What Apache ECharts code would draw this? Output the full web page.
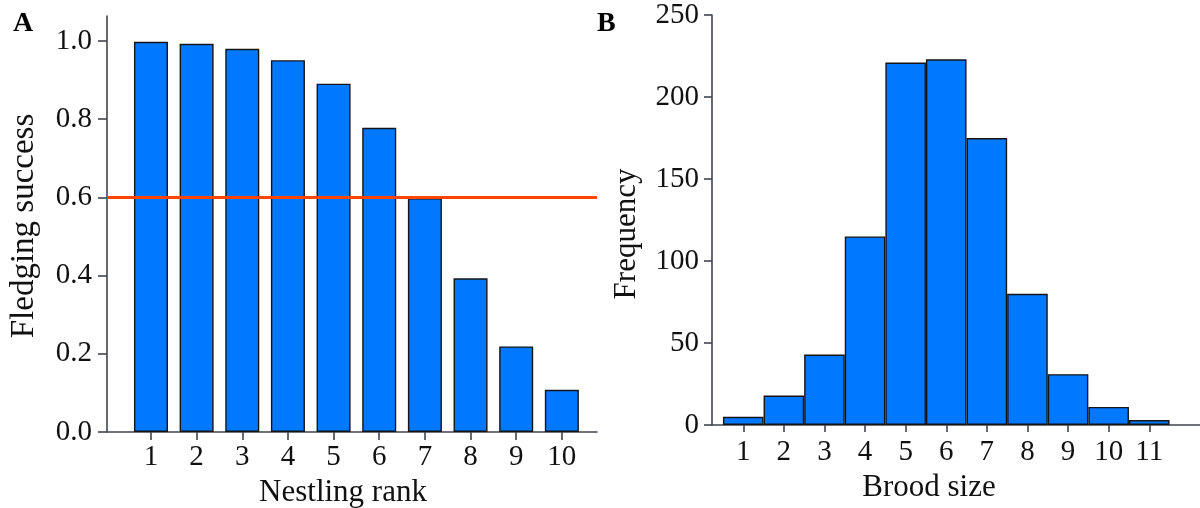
<!DOCTYPE html>
<html>
<head>
<meta charset="utf-8">
<title>Fledging success and brood size</title>
<script src="https://cdn.jsdelivr.net/npm/echarts@6/dist/echarts.min.js"></script>
<style>
  html, body { margin: 0; padding: 0; background: #fff; }
  #chart { width: 1200px; height: 508px; }
</style>
</head>
<body>
<div id="chart"></div>
<script>
// Panel A: fledging success by nestling rank
const nestlingRanks = [1, 2, 3, 4, 5, 6, 7, 8, 9, 10];
const fledgingSuccess = [0.998, 0.993, 0.980, 0.951, 0.891, 0.778, 0.598, 0.393, 0.219, 0.108];
const successThreshold = 0.6;
const successTicks = [0, 0.2, 0.4, 0.6, 0.8, 1.0];

// Panel B: distribution of brood sizes
const broodSizes = [1, 2, 3, 4, 5, 6, 7, 8, 9, 10, 11];
const broodFrequency = [5, 18, 43, 115, 221, 223, 175, 80, 31, 11, 3];
const frequencyTicks = [0, 50, 100, 150, 200, 250];

const FONT = '"Liberation Serif", "Times New Roman", serif';
const BAR_FILL = '#0078ff';
const BAR_EDGE = '#151515';
const AXIS_COLOR = '#40454c';
const TEXT_COLOR = '#111';

// plot areas in pixels (fixed; labels are allowed to sit outside them)
const gridA = { left: 107, top: 16, width: 490, height: 416 };
const gridB = { left: 712, top: 15, width: 488, height: 410 };
const xRangeA = [0.037, 10.77];
const xRangeB = [0.23, 12.25];
const pxPerUnitA = gridA.width / (xRangeA[1] - xRangeA[0]);
const pxPerUnitB = gridB.width / (xRangeB[1] - xRangeB[0]);

const axisLine = { show: true, lineStyle: { color: AXIS_COLOR, width: 1.6 } };
const axisTick = (vals, len) => ({ show: true, length: len, inside: false, customValues: vals,
  lineStyle: { color: AXIS_COLOR, width: 1.6 } });
const labelStyle = { color: TEXT_COLOR, fontFamily: FONT, fontSize: 29 };
const nameStyle = (pad, size) => ({ color: TEXT_COLOR, fontFamily: FONT, fontSize: size || 31, padding: pad });

const option = {
  animation: false,
  backgroundColor: '#ffffff',
  grid: [
    Object.assign({ containLabel: false, outerBoundsMode: 'none' }, gridA),
    Object.assign({ containLabel: false, outerBoundsMode: 'none' }, gridB)
  ],
  xAxis: [
    {
      gridIndex: 0, type: 'value', min: xRangeA[0], max: xRangeA[1],
      axisLine: axisLine, axisTick: axisTick(nestlingRanks, 8),
      axisLabel: Object.assign({ customValues: nestlingRanks, margin: 11 }, labelStyle),
      splitLine: { show: false },
      name: 'Nestling rank', nameLocation: 'middle', nameGap: 39,
      nameTextStyle: nameStyle([0, 18, 0, 0])
    },
    {
      gridIndex: 1, type: 'value', min: xRangeB[0], max: xRangeB[1],
      axisLine: axisLine, axisTick: axisTick(broodSizes, 7),
      axisLabel: Object.assign({ customValues: broodSizes, margin: 13 }, labelStyle),
      splitLine: { show: false },
      name: 'Brood size', nameLocation: 'middle', nameGap: 43,
      nameTextStyle: nameStyle([0, 54, 0, 0])
    }
  ],
  yAxis: [
    {
      gridIndex: 0, type: 'value', min: 0, max: 1.064,
      axisLine: axisLine, axisTick: axisTick(successTicks, 9),
      axisLabel: Object.assign({ customValues: successTicks, margin: 15,
        formatter: (v) => v.toFixed(1) }, labelStyle),
      splitLine: { show: false },
      name: 'Fledging success', nameLocation: 'middle', nameRotate: 90, nameGap: 66,
      nameTextStyle: nameStyle([0, 4, 0, 0], 33)
    },
    {
      gridIndex: 1, type: 'value', min: 0, max: 250,
      axisLine: axisLine, axisTick: axisTick(frequencyTicks, 8),
      axisLabel: Object.assign({ customValues: frequencyTicks, margin: 13 }, labelStyle),
      splitLine: { show: false },
      name: 'Frequency', nameLocation: 'middle', nameRotate: 90, nameGap: 70,
      nameTextStyle: nameStyle([0, 28, 0, 0])
    }
  ],
  series: [
    {
      type: 'bar', xAxisIndex: 0, yAxisIndex: 0,
      data: nestlingRanks.map((r, i) => [r, fledgingSuccess[i]]),
      barWidth: pxPerUnitA * 0.745,
      itemStyle: { color: BAR_FILL, borderColor: BAR_EDGE, borderWidth: 1.4 },
      markLine: {
        silent: true, symbol: 'none', label: { show: false },
        lineStyle: { color: '#ff4500', width: 3, type: 'solid' },
        data: [{ yAxis: successThreshold }]
      }
    },
    {
      type: 'bar', xAxisIndex: 1, yAxisIndex: 1,
      data: broodSizes.map((s, i) => [s, broodFrequency[i]]),
      barWidth: pxPerUnitB,
      itemStyle: { color: BAR_FILL, borderColor: BAR_EDGE, borderWidth: 1.4 }
    }
  ],
  graphic: [
    { type: 'text', left: 13, top: 10,
      style: { text: 'A', font: 'bold 28px ' + FONT, fill: '#000' } },
    { type: 'text', left: 597, top: 10,
      style: { text: 'B', font: 'bold 28px ' + FONT, fill: '#000' } }
  ]
};

const chart = echarts.init(document.getElementById('chart'), null, { renderer: 'canvas' });
chart.setOption(option);
</script>
</body>
</html>
